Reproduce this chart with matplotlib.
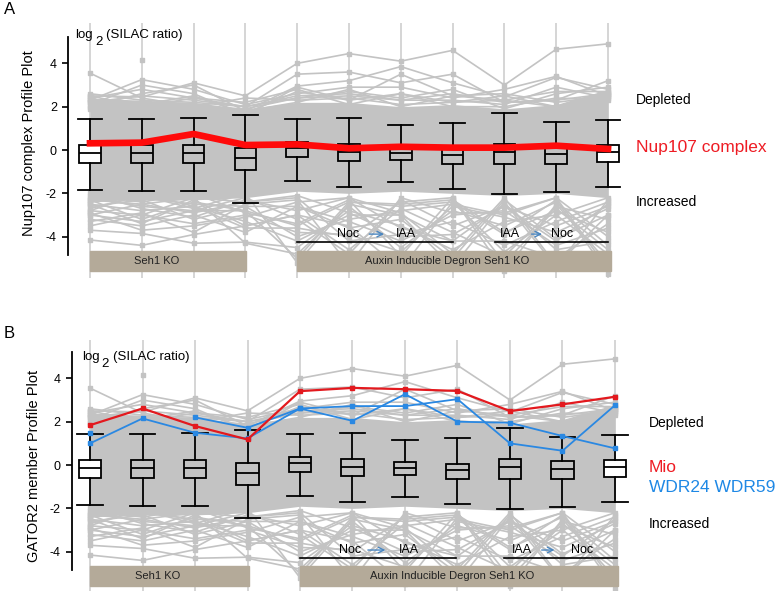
import numpy as np
import matplotlib.pyplot as plt
from matplotlib.patches import Rectangle

plt.rcParams['font.family'] = ['Liberation Sans', 'DejaVu Sans']
plt.rcParams['axes.unicode_minus'] = False

W, H = 778, 591

# --- data -----------------------------------------------------------------
positions = np.arange(1, 12)

# box statistics (log2 SILAC ratio)
box_whishi = [1.43, 1.43, 1.49, 1.62, 1.45, 1.49, 1.15, 1.26, 1.69, 1.28, 1.38]
box_q3 = [0.22, 0.22, 0.22, 0.08, 0.37, 0.28, 0.15, 0.05, 0.28, 0.20, 0.22]
box_med = [-0.15, -0.15, -0.15, -0.37, 0.08, -0.09, -0.15, -0.23, -0.11, -0.18, -0.11]
box_q1 = [-0.61, -0.61, -0.61, -0.92, -0.34, -0.52, -0.46, -0.65, -0.63, -0.65, -0.55]
box_whislo = [-1.85, -1.88, -1.88, -2.43, -1.42, -1.72, -1.46, -1.78, -2.03, -1.92, -1.72]

# dense core of the grey profiles
band_upper = [2.4, 2.3, 2.2, 1.9, 2.2, 2.2, 2.0, 2.1, 1.9, 2.1, 2.8]
band_lower = [-2.3, -2.3, -2.3, -2.2, -1.9, -2.0, -1.9, -2.0, -2.1, -2.0, -2.2]

# individual grey profiles outside the dense core
nan = np.nan
grey_profiles = [
    [2.5, 2.45, 3.1, 2.5, 4.0, 4.45, 4.1, 4.6, 3.0, 4.65, 4.9],
    [2.6, 2.3, 2.2, 2.0, 3.5, 3.6, 3.1, 3.5, 2.2, 2.3, 3.2],
    [2.2, 2.2, 2.0, 1.8, 2.95, 3.2, 3.85, 3.1, 2.45, 3.35, 2.8],
    [3.55, 2.4, 2.0, 1.9, 2.4, 2.5, 2.3, 2.6, 2.2, 2.3, 2.6],
    [2.3, 3.25, 2.8, 2.1, 2.6, 2.9, 2.9, 2.4, 2.8, 3.4, 2.5],
    [2.1, 3.0, 2.6, 1.6, 2.9, 2.3, 3.5, 2.5, 2.3, 2.0, 2.7],
    [2.4, 2.8, 2.4, 2.0, 2.5, 2.6, 2.3, 2.3, 2.1, 2.9, 2.4],
    [2.0, 2.6, 3.0, 1.8, 2.2, 2.8, 2.0, 2.5, 2.6, 2.2, 2.5],
    [2.5, 2.0, 2.4, 2.2, 2.8, 2.1, 2.6, 2.0, 2.0, 2.4, 2.3],
    [1.9, 2.2, 2.0, 2.4, 2.3, 2.4, 2.1, 2.2, 2.5, 2.0, 2.6],
    [2.2, 2.5, 2.3, 2.0, 2.4, 2.7, 2.4, 2.8, 1.9, 2.6, 2.9],
    [2.3, 2.1, 2.5, 1.7, 2.7, 2.3, 2.6, 2.2, 2.3, 2.7, 2.7],
    [nan, 4.15, nan, nan, nan, nan, nan, nan, nan, nan, nan],
    [-3.2, -3.5, -3.0, -3.8, -2.6, -3.3, -4.2, -3.0, -2.8, -4.4, -3.6],
    [-3.7, -3.85, -4.3, -4.25, -4.5, -2.8, -3.5, -4.6, -3.3, -3.0, -4.8],
    [-4.15, -4.4, -3.9, -3.5, -3.0, -4.6, -2.7, -3.8, -4.9, -2.6, -3.2],
    [-2.8, -3.0, -3.4, -3.0, -3.8, -3.9, -4.7, -2.6, -3.1, -3.8, -2.7],
    [-2.5, -2.8, -2.6, -3.3, -4.2, -3.0, -3.0, -4.2, -2.5, -4.6, -4.2],
    [-3.0, -2.5, -2.9, -2.4, -2.2, -4.2, -3.9, -3.3, -4.4, -3.3, -2.4],
    [-2.3, -3.2, -2.4, -2.8, -3.5, -2.4, -2.5, -2.3, -3.8, -2.8, -3.8],
    [-2.6, -2.3, -3.2, -2.6, -2.6, -3.6, -3.2, -5.0, -2.3, -4.1, -3.0],
    [-3.5, -3.0, -2.2, -4.3, -4.8, -2.6, -4.5, -2.8, -3.5, -2.4, -4.4],
    [-2.2, -2.6, -2.8, -2.2, -3.2, -4.8, -2.3, -3.5, -2.6, -3.5, -2.6],
    [-2.9, -3.7, -3.5, -3.1, -2.4, -2.2, -3.6, -4.2, -4.2, -5.0, -3.4],
    [-2.4, -2.2, -2.5, -2.6, -4.0, -3.2, -2.8, -2.5, -3.0, -2.2, -4.0],
    [-2.1, -2.4, -2.0, -2.9, -3.4, -2.3, -4.9, -2.2, -5.6, -2.5, -5.2],
    [-2.7, -2.1, -2.7, -2.0, -5.2, -2.5, -3.0, -5.4, -2.4, -5.4, -2.3],
    [-3.3, -2.9, -3.8, -2.5, -2.3, -5.3, -2.2, -2.9, -2.9, -2.2, -5.5],
    [-2.5, -3.4, -2.3, -3.5, -3.0, -3.5, -5.5, -2.4, -4.7, -3.0, -2.2],
    [-2.0, -2.7, -3.1, -2.3, -2.8, -2.2, -2.9, -4.8, -2.2, -5.3, -3.0],
    [-2.8, -2.0, -2.6, -3.6, -3.6, -4.0, -2.4, -2.2, -5.2, -2.7, -4.6],
    [-2.3, -2.5, -2.2, -2.4, -2.1, -2.9, -4.0, -3.9, -2.6, -4.2, -2.5],
    [-3.0, -3.3, -2.8, -2.8, -5.0, -2.4, -2.6, -2.4, -3.9, -2.3, -5.7],
]

nup107 = [0.31, 0.34, 0.74, 0.23, 0.26, 0.08, 0.15, 0.11, 0.11, 0.20, 0.05]
mio = [1.84, 2.61, 1.80, 1.18, 3.41, 3.56, 3.50, 3.42, 2.49, 2.80, 3.15]
wdr24 = [1.00, 2.15, 1.49, 1.23, 2.61, 2.04, 3.27, 2.00, 1.95, 1.34, 0.77]
wdr59 = [1.50, nan, 2.20, 1.72, 2.61, 2.72, 2.72, 3.04, 1.00, 0.66, 2.76]

GREY = '#c3c3c3'
TAN = '#b4aa99'
ARROW = '#4a86c0'


def px(x, y):
    return x / W, 1 - y / H


def draw_panel(ax, xl, yl, vtop, vbot, spine_lo, spine_hi):
    ax.set_xlim(*xl)
    ax.set_ylim(*yl)
    ax.vlines(positions, vbot, vtop, color='#d2d2d2', lw=1.3, zorder=1)
    ax.fill_between(positions, band_lower, band_upper, color=GREY, lw=0, zorder=1.5)
    for prof in grey_profiles:
        ax.plot(positions, prof, color=GREY, lw=1.2, marker='s', ms=2.5, zorder=2)
    stats = []
    for i in range(len(positions)):
        stats.append(dict(med=box_med[i], q1=box_q1[i], q3=box_q3[i],
                          whislo=box_whislo[i], whishi=box_whishi[i]))
    bp = ax.bxp(stats, positions=positions, widths=0.42, capwidths=0.48,
                showfliers=False, patch_artist=True, manage_ticks=False,
                boxprops=dict(edgecolor='black', linewidth=1.3),
                medianprops=dict(color='black', linewidth=1.3),
                whiskerprops=dict(color='black', linewidth=1.3),
                capprops=dict(color='black', linewidth=1.3))
    for i, b in enumerate(bp['boxes']):
        b.set_facecolor('white' if i in (0, len(positions) - 1) else 'none')
        b.set_zorder(3)
    for k in ('medians', 'whiskers', 'caps'):
        for l in bp[k]:
            l.set_zorder(3)
    # group bars
    for x0, x1, label, lx in [(1, 4.02, 'Seh1 KO', 2.29),
                              (5, 11.06, 'Auxin Inducible Degron Seh1 KO', 7.89)]:
        ax.add_patch(Rectangle((x0, -5.6), x1 - x0, 0.94, color=TAN,
                               zorder=5, clip_on=False))
        ax.text(lx, -5.13, label, ha='center', va='center', fontsize=8,
                color='#222222', zorder=6)
    ax.set_xticks([])
    ax.set_yticks([-4, -2, 0, 2, 4])
    ax.tick_params(axis='y', length=4, width=1.2, labelsize=9, pad=4)
    for s in ('top', 'right', 'bottom'):
        ax.spines[s].set_visible(False)
    ax.spines['left'].set_linewidth(1.3)
    ax.spines['left'].set_bounds(spine_lo, spine_hi)
    ax.patch.set_alpha(0)


def treatment(ax, y, ly, segs):
    for (a, b), (t1, ax0, ax1, t2) in segs:
        ax.plot([a, b], [y, y], color='black', lw=1.2, zorder=5)
        ax.text(t1[0], ly, t1[1], ha='center', va='center', fontsize=9, zorder=6)
        ax.text(t2[0], ly, t2[1], ha='center', va='center', fontsize=9, zorder=6)
        ax.annotate('', xy=(ax1, ly), xytext=(ax0, ly),
                    arrowprops=dict(arrowstyle='->', color=ARROW, lw=1.0), zorder=6)


fig = plt.figure(figsize=(W / 100, H / 100), dpi=100)

# ---- panel A ----
axA = fig.add_axes([68 / W, 1 - 282 / H, (630 - 68) / W, 262 / H])
draw_panel(axA, (0.5753, 11.4247), (-6.09, 6.0), 5.86, -5.9, -4.85, 5.2)
axA.plot(positions, nup107, color='#ff0a0a', lw=4.8, solid_joinstyle='round', zorder=4)
treatment(axA, -4.25, -3.88,
          [((5, 8), ((5.99, 'Noc'), 6.34, 6.73, (7.10, 'IAA'))),
           ((8.82, 11), ((9.11, 'IAA'), 9.47, 9.78, (10.11, 'Noc')))])
axA.set_ylabel('Nup107 complex Profile Plot', fontsize=10.5)
axA.yaxis.set_label_coords(-0.057, 0.53)

# ---- panel B ----
axB = fig.add_axes([71.7 / W, 0, (635 - 71.7) / W, 256 / H])
draw_panel(axB, (0.6514, 11.381), (-5.81, 6.0), 5.77, -5.81, -4.84, 5.23)
axB.plot(positions, wdr24, color='#2a88e2', lw=1.3, marker='s', ms=2.5, zorder=4)
axB.plot(positions, wdr59, color='#2a88e2', lw=1.3, marker='s', ms=2.5, zorder=4)
axB.plot(positions, mio, color='#e3191e', lw=1.6, marker='s', ms=3, zorder=4.5)
treatment(axB, -4.3, -3.92,
          [((5, 7.98), ((5.95, 'Noc'), 6.24, 6.68, (7.08, 'IAA'))),
           ((8.89, 11.03), ((9.23, 'IAA'), 9.55, 9.90, (10.37, 'Noc')))])
axB.set_ylabel('GATOR2 member Profile Plot', fontsize=10.5)
axB.yaxis.set_label_coords(-0.0545, 0.488)

# ---- texts ----
fig.text(*px(4, 9), 'A', fontsize=12, va='center')
fig.text(*px(4, 333), 'B', fontsize=12, va='center')
for x0, y0 in [(75, 35), (81.7, 356.7)]:
    fig.text(*px(x0, y0), 'log', fontsize=9.5, va='center')
    fig.text(*px(x0 + 20, y0 + 7), '2', fontsize=9.5, va='center')
    fig.text(*px(x0 + 31, y0), '(SILAC ratio)', fontsize=9.5, va='center')

fig.text(*px(636, 100), 'Depleted', fontsize=10, va='center')
fig.text(*px(636, 148), 'Nup107 complex', fontsize=12.5, va='center', color='#ee1c24')
fig.text(*px(636, 202), 'Increased', fontsize=10, va='center')

fig.text(*px(649, 423), 'Depleted', fontsize=10, va='center')
fig.text(*px(649, 468), 'Mio', fontsize=12.5, va='center', color='#ee1c24')
fig.text(*px(649, 488), 'WDR24 WDR59', fontsize=12.5, va='center', color='#1e88e5')
fig.text(*px(649, 524), 'Increased', fontsize=10, va='center')

fig.savefig('out.png', dpi=100)
